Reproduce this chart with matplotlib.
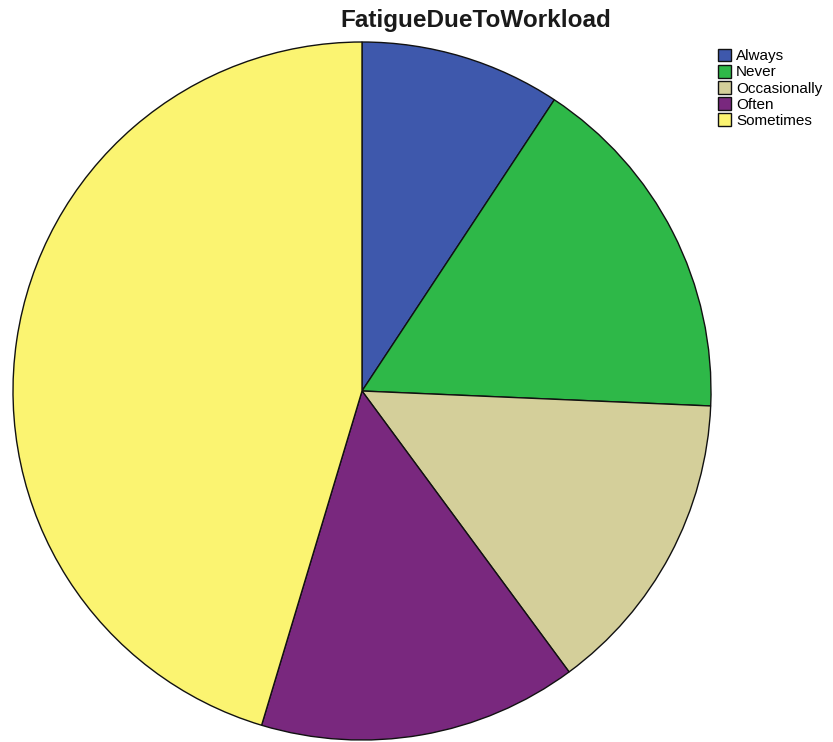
import matplotlib.pyplot as plt

# counts
labels = ['Always', 'Never', 'Occasionally', 'Often', 'Sometimes']
counts = [17, 30, 26, 27, 83]
colors = ['#3e58ac', '#2eb848', '#d4cf9a', '#79287e', '#fbf471']

W, H = 833, 742
fig = plt.figure(figsize=(W / 100, H / 100), dpi=100)

# pie centre ~ (362, 391) px, radius ~ 350 px
cx, cy, r = 362, 391, 349
ax = fig.add_axes([(cx - r) / W, (H - cy - r) / H, 2 * r / W, 2 * r / H])
wedges, _ = ax.pie(counts, colors=colors, startangle=90, counterclock=False,
                   wedgeprops=dict(edgecolor='#111111', linewidth=1.0))
ax.set_xlim(-1, 1)
ax.set_ylim(-1, 1)
ax.set_aspect('auto')
ax.axis('off')

fig.text(476 / W, 1 - 21 / H, 'FatigueDueToWorkload', ha='center', va='center',
         fontsize=17.5, fontweight='bold', family='Liberation Sans', color='#1a1a1a')

leg = fig.legend(wedges, labels, loc='upper left',
                 bbox_to_anchor=(707 / W, 1 - 38 / H), frameon=False,
                 prop={'family': 'Liberation Sans', 'size': 11},
                 handlelength=0.9, handleheight=0.9, handletextpad=0.3,
                 labelspacing=0.1, borderpad=0.2)

fig.savefig('out.png', dpi=100)
